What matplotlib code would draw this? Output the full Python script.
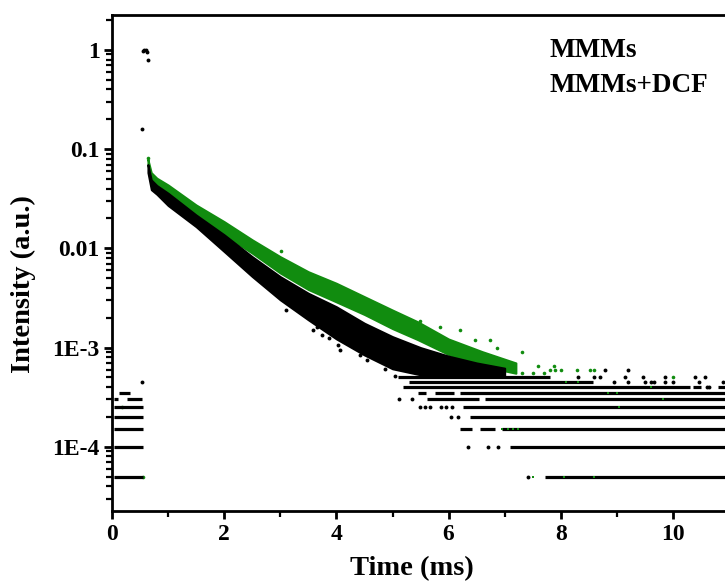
import matplotlib
matplotlib.use("Agg")
import matplotlib.pyplot as plt
from matplotlib.ticker import FixedLocator, LogLocator, MultipleLocator, NullFormatter

plt.rcParams['font.family'] = ['Liberation Serif', 'DejaVu Serif']
plt.rcParams['font.weight'] = 'bold'

# ---------------- data ----------------
# dense decay core of each series: time (ms), lower / upper intensity
t_blk_core = [0.64, 0.70, 0.80, 1.0, 1.5, 2.0, 2.5, 3.0, 3.5, 4.0, 4.5, 5.0, 5.5, 6.0, 6.5, 7.0]
blk_hi = [0.070, 0.049, 0.043, 0.036, 0.0217, 0.0137, 0.00825, 0.00519, 0.00353, 0.00258,
          0.00176, 0.00129, 0.00100, 0.00082, 0.00070, 0.00062]
blk_lo = [0.058, 0.039, 0.035, 0.027, 0.0165, 0.00927, 0.00519, 0.00302, 0.00190, 0.00122,
          0.00084, 0.00061, 0.00053, 0.00051, 0.00050, 0.00050]

t_grn_core = [0.64, 0.70, 0.80, 1.0, 1.5, 2.0, 2.5, 3.0, 3.5, 4.0, 4.5, 5.0, 5.45, 6.0, 6.6, 7.2]
grn_hi = [0.079, 0.058, 0.051, 0.0436, 0.0274, 0.0186, 0.0122, 0.00825, 0.00582, 0.00445,
          0.00326, 0.00239, 0.00182, 0.00122, 0.00091, 0.00070]
grn_lo = [0.069, 0.046, 0.040, 0.0335, 0.0212, 0.0137, 0.00893, 0.00563, 0.00384, 0.00288,
          0.00215, 0.00155, 0.00120, 0.00085, 0.00065, 0.00055]

# quantised count levels (black series): level, start time, end time
blk_row_y = [5e-5, 1e-4, 1.5e-4, 2e-4, 2.5e-4, 3e-4, 3e-4, 3.5e-4,
             5e-5, 1e-4, 1.5e-4, 1.5e-4, 1.5e-4, 2e-4, 2.5e-4, 3e-4, 3e-4,
             3.5e-4, 3.5e-4, 3.5e-4, 4e-4, 4e-4, 4e-4, 4.5e-4, 5e-4]
blk_row_t0 = [0.03, 0.03, 0.03, 0.03, 0.03, 0.03, 0.27, 0.13,
              7.72, 7.09, 6.21, 6.56, 6.95, 6.38, 6.26, 5.61, 6.65,
              5.45, 5.75, 6.20, 5.19, 10.35, 10.80, 5.30, 5.10]
blk_row_t1 = [0.55, 0.55, 0.55, 0.55, 0.55, 0.10, 0.53, 0.32,
              11.5, 11.5, 6.42, 6.83, 11.5, 11.5, 11.5, 6.55, 11.5,
              5.60, 6.10, 11.5, 10.30, 10.50, 11.20, 8.57, 7.80]

# isolated black points
blk_dot_t = [0.53, 0.53, 0.55, 0.575, 0.60, 0.62, 0.636,
             7.42, 6.35, 6.70, 6.88, 6.04, 6.17,
             5.49, 5.58, 5.67, 5.87, 5.96, 6.06, 5.11, 5.35,
             10.60, 10.65,
             8.95, 9.20, 9.50, 9.60, 9.67, 9.85, 10.00, 10.46, 10.90,
             8.30, 8.60, 8.70, 9.14, 9.47, 9.86, 10.39, 10.57,
             8.79, 9.20,
             3.11, 3.59, 3.65, 3.74, 3.86, 3.92, 4.03, 4.06, 4.42, 4.54, 4.87, 5.04]
blk_dot_y = [4.5e-4, 0.159, 0.97, 1.0, 0.99, 0.96, 0.79,
             5e-5, 1e-4, 1e-4, 1e-4, 2e-4, 2e-4,
             2.5e-4, 2.5e-4, 2.5e-4, 2.5e-4, 2.5e-4, 2.5e-4, 3e-4, 3e-4,
             4e-4, 4e-4,
             4.5e-4, 4.5e-4, 4.5e-4, 4.5e-4, 4.5e-4, 4.5e-4, 4.5e-4, 4.5e-4, 4.5e-4,
             5e-4, 5e-4, 5e-4, 5e-4, 5e-4, 5e-4, 5e-4, 5e-4,
             6e-4, 6e-4,
             2.39e-3, 1.5e-3, 1.6e-3, 1.35e-3, 1.24e-3, 1.4e-3, 1.06e-3, 9.5e-4, 8.5e-4, 7.5e-4,
             6.1e-4, 5.2e-4]

# isolated green points
grn_dot_t = [0.18, 0.55, 0.64,
             3.02, 5.49, 5.85, 6.20, 6.47, 6.74, 6.86, 7.30, 7.60, 7.87,
             7.80, 7.90, 8.00, 8.28, 8.52, 8.60, 7.30, 7.50, 7.70, 10.00,
             7.50, 8.06, 8.60, 6.95, 7.05, 7.15, 7.24, 8.85, 9.00, 9.60, 8.10, 8.30, 9.04, 9.82]
grn_dot_y = [2.5e-4, 5e-5, 0.082,
             9.4e-3, 1.87e-3, 1.6e-3, 1.5e-3, 1.19e-3, 1.19e-3, 1.0e-3, 9.1e-4, 6.5e-4, 6.5e-4,
             6e-4, 6e-4, 6e-4, 6e-4, 6e-4, 6e-4, 5.5e-4, 5.5e-4, 5.5e-4, 5e-4,
             5e-5, 5e-5, 5e-5, 1.5e-4, 1.5e-4, 1.5e-4, 1.5e-4, 3.5e-4, 3.5e-4, 4e-4, 4.5e-4,
             4.5e-4, 2.5e-4, 3e-4]

series_names = ["MMMs", "MMMs+DCF"]
x_ticks = [0, 2, 4, 6, 8, 10]
y_ticks = [1e-4, 1e-3, 1e-2, 1e-1, 1]
y_tick_labels = ["1E-4", "1E-3", "0.01", "0.1", "1"]

BLACK = "#000000"
GREEN = "#118c0f"

# ---------------- figure ----------------
fig = plt.figure(figsize=(7.25, 5.87), dpi=100)
ax = fig.add_axes([112 / 725, 76 / 587, 673.2 / 725, 496 / 587])
ax.set_yscale("log")
ax.set_xlim(0, 12)
ax.set_ylim(2.25e-5, 2.25)

# green series (underneath)
ax.fill_between(t_grn_core, grn_lo, grn_hi, color=GREEN, edgecolor=GREEN, linewidth=1.4, zorder=2)
ax.plot(grn_dot_t[:23], grn_dot_y[:23], 'o', color=GREEN, ms=2.6, mew=0, zorder=2)

# black series
ax.fill_between(t_blk_core, blk_lo, blk_hi, color=BLACK, edgecolor=BLACK, linewidth=1.4, zorder=3)
ax.hlines(blk_row_y, blk_row_t0, blk_row_t1, color=BLACK, linewidth=2.3, zorder=3)
ax.plot(blk_dot_t, blk_dot_y, 'o', color=BLACK, ms=2.8, mew=0, zorder=3)

# green points visible in gaps of the black levels
ax.plot(grn_dot_t[23:], grn_dot_y[23:], 's', color=GREEN, ms=2.0, mew=0, zorder=4)

# axes styling
for side in ["left", "bottom", "top", "right"]:
    ax.spines[side].set_linewidth(2.0)
ax.xaxis.set_major_locator(FixedLocator(x_ticks))
ax.xaxis.set_minor_locator(MultipleLocator(1))
ax.yaxis.set_major_locator(FixedLocator(y_ticks))
ax.set_yticklabels(y_tick_labels)
ax.yaxis.set_minor_locator(LogLocator(base=10, subs=[2, 3, 4, 5, 6, 7, 8, 9], numticks=20))
ax.yaxis.set_minor_formatter(NullFormatter())
ax.tick_params(which="major", direction="out", length=6, width=2.0, labelsize=17, pad=3)
ax.tick_params(which="minor", direction="out", length=4.5, width=1.6)
ax.tick_params(top=False, right=False, which="both")
for lab in ax.get_xticklabels() + ax.get_yticklabels():
    lab.set_fontweight("bold")

ax.set_xlabel("Time (ms)", fontsize=20.5, fontweight="bold")
ax.set_ylabel("Intensity (a.u.)", fontsize=20.5, fontweight="bold")
ax.xaxis.set_label_coords((412 - 112) / 673.2, (511 - 556) / 496)
ax.yaxis.set_label_coords((36 - 112) / 673.2, (511 - 284.5) / 496)

fig.text(550 / 725, 1 - 57 / 587, series_names[0], fontsize=19.5, fontweight="bold",
         ha="left", va="baseline")
fig.text(550 / 725, 1 - 91.5 / 587, series_names[1], fontsize=19.5, fontweight="bold",
         ha="left", va="baseline")

fig.savefig("out.png", dpi=100)
